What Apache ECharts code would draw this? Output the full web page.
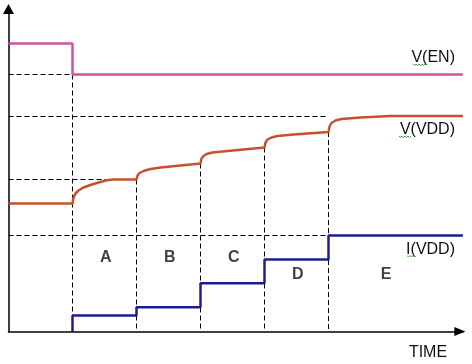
<!DOCTYPE html>
<html>
<head>
<meta charset="utf-8">
<script src="https://cdn.jsdelivr.net/npm/echarts@6/dist/echarts.min.js"></script>
<style>
html,body{margin:0;padding:0;background:#fff;}
#c{width:472px;height:364px;}
</style>
</head>
<body>
<div id="c"></div>
<script>
// time axis: one unit per phase; level axis: arbitrary units
const vEN = [[0,288],[1,288],[1,257],[7.1,257]];
const vVDD = [
  [0,128],[1,128],
  [1.016,134],[1.047,138],[1.094,141],[1.172,144],[1.281,146.5],[1.406,149],[1.516,151],[1.625,152],[2,152],
  [2.016,156],[2.047,158.5],[2.109,160.5],[2.219,162.5],[2.375,164],[3,168],
  [3.016,173],[3.047,175.5],[3.094,177.5],[3.188,179],[3.422,180.5],[4,184],
  [4.016,189],[4.047,192],[4.109,194],[4.203,195.5],[4.453,197],[5,199.5],
  [5.016,205],[5.047,208.5],[5.109,211],[5.203,212.5],[5.5,214],[5.969,215.5],[7.1,215.5]
];
const iVDD = [[1,0],[1,16],[2,16],[2,24.3],[3,24.3],[3,48.3],[4,48.3],[4,72],[5,72],[5,96],[7.1,96]];
// dashed guides: horizontal [level, fromTime, toTime], vertical [time, topLevel]
const guideH = [[257,0,1],[215,0,5],[152,0,1.52],[96,0,5]];
const guideV = [[1,257],[2,152],[3,168],[4,184],[5,199.5]];
// phase letters [name, time, level]
const phases = [['A',1.52,73.5],['B',2.52,73.5],['C',3.52,73.5],['D',4.52,57],['E',5.9,57]];
const signalNames = ['V(EN)','V(VDD)','I(VDD)'];
const axisName = 'TIME';

const FONT = '"Liberation Sans", Arial, sans-serif';
const series = [];
guideH.forEach(g => series.push({
  type:'line', data:[[g[1],g[0]],[g[2],g[0]]], showSymbol:false, silent:true, z:1,
  lineStyle:{color:'#000', width:1, type:[5,3]}
}));
guideV.forEach(g => series.push({
  type:'line', data:[[g[0],g[1]],[g[0],0]], showSymbol:false, silent:true, z:1,
  lineStyle:{color:'#000', width:1, type:[5,3]}
}));
series.push({type:'line', name:signalNames[0], data:vEN, showSymbol:false, z:3, lineStyle:{color:'#d2519e', width:2.5}});
series.push({type:'line', name:signalNames[1], data:vVDD, showSymbol:false, z:3, lineStyle:{color:'#c9502b', width:2.5}});
series.push({type:'line', name:signalNames[2], data:iVDD, showSymbol:false, z:3, lineStyle:{color:'#1c1c98', width:2.5}});
series.push({
  type:'scatter', symbolSize:0, z:4, silent:true,
  data: phases.map(p => ({name:p[0], value:[p[1],p[2]]})),
  label:{show:true, position:'inside', formatter:'{b}', color:'#111', fontSize:16, fontWeight:'bold', fontFamily:FONT}
});

function squiggle(x0, x1, y){
  const pts = []; let up = true;
  for (let x = x0; x <= x1; x += 1.5) { pts.push([x, up ? y : y + 1.5]); up = !up; }
  return {type:'polyline', shape:{points:pts}, style:{stroke:'#4aa04a', lineWidth:1, fill:null}, silent:true};
}

const chart = echarts.init(document.getElementById('c'), null, {renderer:'canvas'});
chart.setOption({
  animation:false,
  backgroundColor:'#fff',
  grid:{left:8.5, top:9.5, width:454.4, height:322, containLabel:false},
  xAxis:{type:'value', min:0, max:7.1, splitLine:{show:false}, axisTick:{show:false}, axisLabel:{show:false},
    axisLine:{show:true, onZero:false, symbol:['none','triangle'], symbolSize:[9,11], symbolOffset:[0,-3], lineStyle:{color:'#000', width:1.5}}},
  yAxis:{type:'value', min:0, max:322, splitLine:{show:false}, axisTick:{show:false}, axisLabel:{show:false},
    axisLine:{show:true, onZero:false, symbol:['none','triangle'], symbolSize:[11,10], symbolOffset:[0,0.5], lineStyle:{color:'#000', width:1.5}}},
  series: series,
  graphic:[
    {type:'text', style:{text:signalNames[0], x:455, y:58, align:'right', verticalAlign:'middle', fill:'#111', font:'16px '+FONT}},
    {type:'text', style:{text:signalNames[1], x:455, y:130, align:'right', verticalAlign:'middle', fill:'#111', font:'16px '+FONT}},
    {type:'text', style:{text:signalNames[2], x:455, y:249.5, align:'right', verticalAlign:'middle', fill:'#111', font:'16px '+FONT}},
    {type:'text', style:{text:axisName, x:428, y:353, align:'center', verticalAlign:'middle', fill:'#111', font:'16px '+FONT}},
    squiggle(413, 426, 64),
    squiggle(399, 412, 136),
    squiggle(407, 415, 255.5)
  ]
});
</script>
</body>
</html>
